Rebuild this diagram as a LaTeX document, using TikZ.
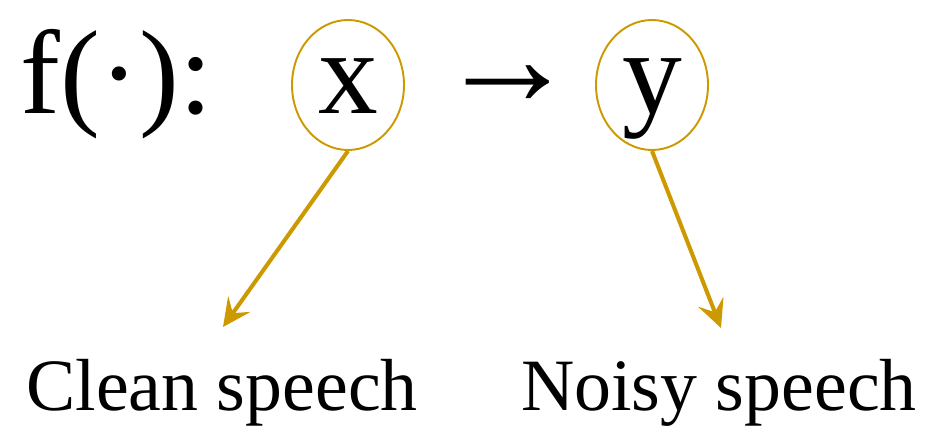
\documentclass[tikz,border=0pt]{standalone}
\usepackage{fontspec}
\setmainfont{Liberation Serif}
\usepackage{tikz}
\usetikzlibrary{arrows.meta,positioning,shapes.geometric}
\usepackage{xcolor}
\definecolor{sngold}{RGB}{204,153,0}
\tikzset{
  bigtext/.style={font=\fontsize{68}{80}\selectfont,inner sep=0pt},
  captext/.style={font=\fontsize{42}{50}\selectfont,inner sep=0pt},
  ringnode/.style={ellipse,draw=sngold,line width=1.1pt,inner sep=0pt,minimum width=2.24cm,minimum height=2.6cm,text height=1.12cm,text depth=0pt,font=\fontsize{68}{80}\selectfont},
  callarrow/.style={-{Stealth[length=5.6mm,width=5.4mm,inset=2.2mm]},line width=2.3pt,draw=sngold}
}

\begin{document}
\begin{tikzpicture}
  \useasboundingbox (0,0) rectangle (18.8,8.56);
  \node[bigtext,anchor=base west] (fn) at (0.40,6.30) {f(·):};
  \node[ringnode] (xin) at (6.96,6.86) {x};
  \node[inner sep=0pt,font=\fontsize{80}{90}\selectfont\bfseries] (maps) at (10.16,6.84) {→};
  \node[ringnode] (yout) at (13.04,6.86) {y};
  \node[captext,anchor=base] (clean) at (4.44,0.36) {Clean speech};
  \node[captext,anchor=base] (noisy) at (14.38,0.36) {Noisy speech};
  \coordinate (cleantip) at (4.46,2.02);
  \coordinate (noisytip) at (14.42,2.00);
  \draw[callarrow] (xin.south) -- (cleantip);
  \draw[callarrow] (yout.south) -- (noisytip);
\end{tikzpicture}
\end{document}
